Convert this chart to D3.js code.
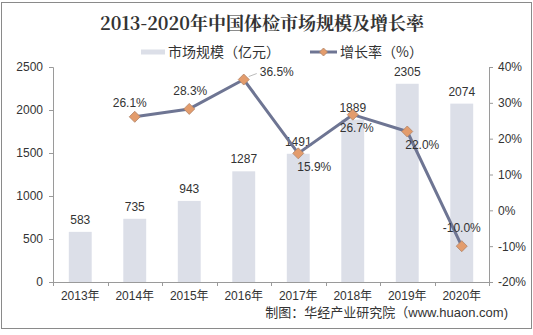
<!DOCTYPE html>
<html><head><meta charset="utf-8">
<script src="https://cdn.jsdelivr.net/npm/d3@7"></script>
<style>body{margin:0;background:#fff}svg{display:block}</style>
</head><body><svg id="c" width="533" height="335"></svg>
<script>
const years = ["2013年","2014年","2015年","2016年","2017年","2018年","2019年","2020年"];
const marketSize = [583,735,943,1287,1491,1889,2305,2074];
const growthYears = ["2014年","2015年","2016年","2017年","2018年","2019年","2020年"];
const growthRate = [26.1,28.3,36.5,15.9,26.7,22.0,-10.0];
const leftTicks = [0,500,1000,1500,2000,2500];
const rightTicks = [-20,-10,0,10,20,30,40];
// label placement: [dx, dy, anchor]
const growthLabelPos = [[-5,-10,"middle"],[1,-14,"middle"],[16,-4,"start"],[-1,18,"start"],[4,17,"middle"],[-2,17,"start"],[0,-14,"middle"]];

const svg = d3.select("#c");
const font = "'Liberation Sans', Arial, sans-serif";
const cjk = "'Noto Sans CJK SC', sans-serif";
const mixed = "'Liberation Sans', 'Noto Sans CJK SC', sans-serif";
svg.append("rect").attr("x",1.5).attr("y",2.5).attr("width",530).attr("height",326)
  .attr("fill","#fff").attr("stroke","#8a8a8a");

const L=53,R=489,T=67,B=282;
const x = d3.scaleBand().domain(years).range([L,R]).paddingInner(0.58).paddingOuter(0.29);
const xc = d3.scaleBand().domain(years).range([L,R]);
const y = d3.scaleLinear().domain([0,2500]).range([B,T]);
const y2 = d3.scaleLinear().domain([-20,40]).range([B,T]);

svg.append("text").attr("x",262).attr("y",30).attr("text-anchor","middle")
  .attr("font-family","'Noto Serif CJK SC','Noto Sans CJK SC',serif").attr("font-weight",700)
  .attr("font-size",18).attr("fill","#333").text("2013-2020年中国体检市场规模及增长率");

const diamond = s => `M0,${-s}L${s},0L0,${s}L${-s},0Z`;

// legend
svg.append("rect").attr("x",141).attr("y",49.5).attr("width",24).attr("height",5).attr("fill","#dcdfe8");
svg.append("text").attr("x",168).attr("y",57).attr("font-family",cjk).attr("font-size",14).attr("fill","#333").text("市场规模（亿元）");
svg.append("line").attr("x1",310).attr("x2",337).attr("y1",52).attr("y2",52).attr("stroke","#6e7593").attr("stroke-width",3);
svg.append("path").attr("d",diamond(4)).attr("transform","translate(323.5,52)")
  .attr("fill","#e39c6c").attr("stroke","#b08468").attr("stroke-width",0.8);
svg.append("text").attr("x",340).attr("y",57).attr("font-family",cjk).attr("font-size",14).attr("fill","#333").text("增长率（%）");

// bars
svg.append("g").selectAll("rect").data(marketSize).join("rect")
  .attr("x",(d,i)=>x(years[i])).attr("width",x.bandwidth())
  .attr("y",d=>y(d)).attr("height",d=>B-y(d)).attr("fill","#dcdfe8");

// axes
const gl = svg.append("g").attr("transform",`translate(${L},0)`)
  .call(d3.axisLeft(y).tickValues(leftTicks).tickSize(4).tickPadding(6).tickFormat(d3.format("d")));
const gr = svg.append("g").attr("transform",`translate(${R},0)`)
  .call(d3.axisRight(y2).tickValues(rightTicks).tickSize(4).tickPadding(5).tickFormat(d=>d+"%"));
const gb = svg.append("g").attr("transform",`translate(0,${B})`)
  .call(d3.axisBottom(xc).tickSize(0).tickPadding(9));
gb.select(".domain").remove();
svg.append("line").attr("x1",L).attr("x2",R).attr("y1",B+0.5).attr("y2",B+0.5).attr("stroke","#9a9a9a");
svg.append("g").selectAll("line").data(d3.range(years.length+1)).join("line")
  .attr("x1",i=>Math.round(L+i*xc.step())+0.5).attr("x2",i=>Math.round(L+i*xc.step())+0.5)
  .attr("y1",B).attr("y2",B+4).attr("stroke","#9a9a9a");
[gl,gr,gb].forEach(g=>{
  g.selectAll(".domain,.tick line").attr("stroke","#9a9a9a");
  g.selectAll("text").attr("font-family",font).attr("font-size",12).attr("fill","#333");
});
gb.selectAll("text").attr("font-family",mixed).attr("font-size",12);

// bar labels
svg.append("g").selectAll("text").data(marketSize).join("text")
  .attr("x",(d,i)=>xc(years[i])+xc.bandwidth()/2).attr("y",d=>y(d)-8)
  .attr("text-anchor","middle").attr("font-family",font).attr("font-size",12).attr("fill","#333").text(d=>d);

// line
const px = d=>xc(d)+xc.bandwidth()/2;
const line = d3.line().x((d,i)=>px(growthYears[i])).y(d=>y2(d));
svg.append("path").datum(growthRate).attr("d",line).attr("fill","none")
  .attr("stroke","#6e7593").attr("stroke-width",3).attr("stroke-linejoin","round");
// leader line for 36.5%
svg.append("line").attr("x1",px("2016年")+5).attr("y1",y2(36.5)-3).attr("x2",px("2016年")+13).attr("y2",y2(36.5)-6)
  .attr("stroke","#aaa").attr("stroke-width",0.8);
svg.append("g").selectAll("path").data(growthRate).join("path")
  .attr("d",diamond(5.5))
  .attr("transform",(d,i)=>`translate(${px(growthYears[i])},${y2(d)})`)
  .attr("fill","#e39c6c").attr("stroke","#b08468").attr("stroke-width",0.8);
svg.append("g").selectAll("text").data(growthRate).join("text")
  .attr("x",(d,i)=>px(growthYears[i])+growthLabelPos[i][0]).attr("y",(d,i)=>y2(d)+growthLabelPos[i][1])
  .attr("text-anchor",(d,i)=>growthLabelPos[i][2])
  .attr("font-family",font).attr("font-size",12).attr("fill","#333").text(d=>d.toFixed(1)+"%");

svg.append("text").attr("x",508).attr("y",317).attr("text-anchor","end")
  .attr("font-family",mixed).attr("font-size",13).attr("fill","#333").text("制图：华经产业研究院（www.huaon.com)");
</script></body></html>
